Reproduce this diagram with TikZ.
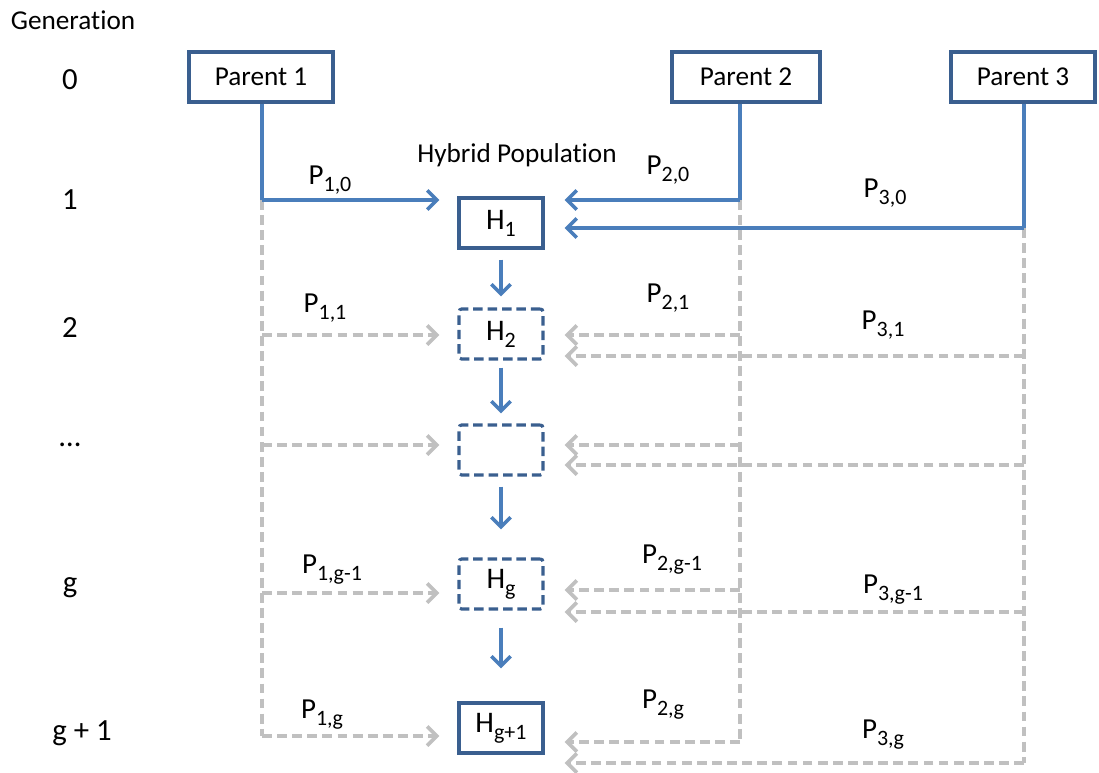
\documentclass[tikz,border=0pt]{standalone}
\usepackage{fontspec}
\setmainfont{Carlito}[Ligatures=NoCommon]
\definecolor{hpLine}{HTML}{4A7EBB}
\definecolor{hpBox}{HTML}{3A5F8F}
\definecolor{hpGrey}{HTML}{C0C0C0}
\usetikzlibrary{arrows.meta,calc}
\newcommand{\plabel}[2]{#1\raisebox{-4pt}{\fontsize{12.5}{14}\selectfont #2}}

\begin{document}
\begin{tikzpicture}[
  x=0.02cm,y=-0.02cm,
  font=\fontsize{15.5}{18}\selectfont,
  parent/.style={draw=hpBox,line width=1.8pt,minimum width=2.88cm,minimum height=1cm,inner sep=0pt},
  hyb/.style={draw=hpBox,line width=1.8pt,minimum width=1.68cm,minimum height=1cm,inner sep=0pt,
              font=\fontsize{17}{18}\selectfont},
  hybdash/.style={hyb,rounded corners=1.5pt,dash pattern=on 5.4pt off 2.8pt},
  plbl/.style={font=\fontsize{16.5}{18}\selectfont},
  gentxt/.style={font=\fontsize{17.5}{20}\selectfont},
  live/.style={draw=hpLine,line width=2pt},
  ghost/.style={draw=hpGrey,line width=2.1pt,dash pattern=on 5.6pt off 3pt},
  >={Straight Barb[length=5.5pt,width=11pt]}
]
\useasboundingbox (0,0) rectangle (1099,772);

\node (gen) at (73,20) {Generation};
\foreach \n/\x/\y/\t in {g0/70/80/0,g1/70/200/1,g2/70/328/2,gdots/70/445/\dots,gg/70/588/g,ggp/82/733/g + 1}
  \node[gentxt] (\n) at (\x,\y) {\t};

\node[parent] (par1) at (261,77) {Parent 1};
\node[parent,minimum width=2.96cm] (par2) at (746,77) {Parent 2};
\node[parent] (par3) at (1023,77) {Parent 3};
\node (hyblbl) at (517,155) {Hybrid Population};

\node[hyb] (h1) at (501,223) {\plabel{H}{1}};
\node[hybdash] (h2) at (501,334) {\plabel{H}{2}};
\node[hybdash] (h3) at (501,450) {};
\node[hybdash] (hg) at (501,584) {\plabel{H}{g}};
\node[hyb] (hgp) at (501,728) {\plabel{H}{g+1}};

\foreach \r/\ya/\yb/\yc in {1/200/200/228,2/335/335/356,3/445/445/465,4/593/590/612,5/736/742/763}{
  \coordinate (a\r) at (262,\ya);
  \coordinate (b\r) at (740,\yb);
  \coordinate (c\r) at (1024,\yc);
}

\draw[live] (par1.south -| a1) -- (a1);
\draw[live] (par2.south -| b1) -- (b1);
\draw[live] (par3.south -| c1) -- (c1);
\draw[ghost] (a1) -- (a5);
\draw[ghost] (b1) -- (b5);
\draw[ghost] (c1) -- (c5);

\draw[live,->,shorten >=0.36cm] (a1) -- (a1 -| h1.west);
\draw[live,->,shorten >=0.4cm] (b1) -- (b1 -| h1.east);
\draw[live,->,shorten >=0.4cm] (c1) -- (c1 -| h1.east);
\foreach \r/\h in {2/h2,3/h3,4/hg,5/hgp}{
  \draw[ghost,->,shorten >=0.36cm] (a\r) -- (a\r -| \h.west);
  \draw[ghost,->,shorten >=0.4cm] (b\r) -- (b\r -| \h.east);
  \draw[ghost,->,shorten >=0.4cm] (c\r) -- (c\r -| \h.east);
}

\foreach \u/\v/\s/\e in {h1/h2/0.2/0.22,h2/h3/0.14/0.2,h3/hg/0.2/0.56,hg/hgp/0.34/0.66}
  \draw[live,->,shorten <=\s cm,shorten >=\e cm] (\u) -- (\v);

\foreach \n/\x/\y/\t in {p10/330/180/{1,0},p20/668/170/{2,0},p30/885/193/{3,0},
                         p11/325/308/{1,1},p21/668/298/{2,1},p31/883/325/{3,1},
                         p1g/332/570/{1,g-1},p2g/672/560/{2,g-1},p3g/893/590/{3,g-1},
                         p1gp/322/715/{1,g},p2gp/663/705/{2,g},p3gp/883/735/{3,g}}
  \node[plbl] (\n) at (\x,\y) {\plabel{P}{\t}};
\end{tikzpicture}
\end{document}
